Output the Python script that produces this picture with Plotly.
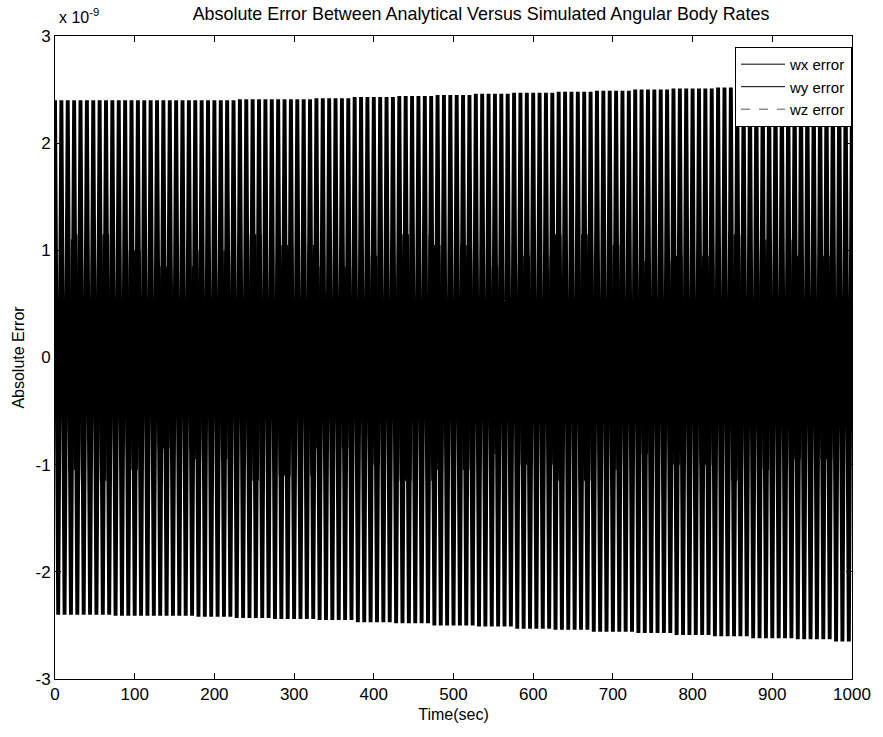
import numpy as np
import plotly.graph_objects as go

# ---------------- data (values in units of 1e-9) ----------------
# envelope sample times (s)
env_t = [0, 50, 100, 150, 200, 250, 300, 350, 400, 450, 500,
         550, 600, 650, 700, 750, 800, 850, 900, 950, 1000]
# wx error: upper / lower peak levels
wx_hi = [2.40, 2.40, 2.40, 2.40, 2.40, 2.41, 2.41, 2.42, 2.43, 2.44, 2.45,
         2.46, 2.47, 2.48, 2.49, 2.50, 2.51, 2.52, 2.53, 2.54, 2.55]
wx_lo = [-2.40, -2.40, -2.41, -2.41, -2.42, -2.43, -2.44, -2.45, -2.47, -2.48, -2.50,
         -2.51, -2.53, -2.54, -2.56, -2.57, -2.59, -2.60, -2.62, -2.63, -2.65]
# wy error: peak levels
wy_hi = [1.10, 1.15, 1.00, 0.85, 1.00, 1.15, 1.05, 0.85, 0.95, 1.15, 1.05,
         0.85, 0.95, 1.15, 1.05, 0.90, 0.95, 1.15, 1.10, 0.95, 1.00]
wy_lo = [-1.05, -1.15, -1.05, -0.85, -0.95, -1.15, -1.10, -0.85, -1.00, -1.15, -1.05,
         -0.90, -1.00, -1.15, -1.05, -0.90, -1.00, -1.15, -1.05, -0.95, -1.00]
# wz error: peak levels
wz_hi = [0.40, 0.35, 0.45, 0.40, 0.35, 0.45, 0.40, 0.35, 0.40, 0.45, 0.35,
         0.40, 0.45, 0.35, 0.40, 0.45, 0.40, 0.35, 0.40, 0.45, 0.40]
wz_lo = [-0.40, -0.35, -0.45, -0.40, -0.35, -0.45, -0.40, -0.35, -0.40, -0.45, -0.35,
         -0.40, -0.45, -0.35, -0.40, -0.45, -0.40, -0.35, -0.40, -0.45, -0.40]

# turning-point sample times (s)
t_wx = np.arange(0, 1000.1, 4.0)
t_wy = np.arange(1.0, 1000.1, 3.3)
t_wz = np.arange(0.8, 1000.1, 2.7)

x_ticks = [0, 100, 200, 300, 400, 500, 600, 700, 800, 900, 1000]
y_ticks = [-3, -2, -1, 0, 1, 2, 3]
y_ticktext = ["-3", "-2", "-1", "0", "1", "2", "3"]
series_names = ["wx error", "wy error", "wz error"]


def turning_values(t, hi, lo):
    idx = np.abs(np.subtract.outer(t, np.array(env_t))).argmin(axis=1)
    hi = np.array(hi)[idx]
    lo = np.array(lo)[idx]
    return np.where(np.arange(len(t)) % 2 == 0, hi, lo)


fig = go.Figure()
fig.add_trace(go.Scatter(x=t_wx, y=turning_values(t_wx, wx_hi, wx_lo), mode="lines",
                         showlegend=False, hoverinfo="skip",
                         line=dict(color="black", width=3.9, simplify=False)))
fig.add_trace(go.Scatter(x=t_wy, y=turning_values(t_wy, wy_hi, wy_lo), mode="lines",
                         showlegend=False, hoverinfo="skip",
                         line=dict(color="black", width=1.3, simplify=False)))
fig.add_trace(go.Scatter(x=t_wz, y=turning_values(t_wz, wz_hi, wz_lo), mode="lines",
                         showlegend=False, hoverinfo="skip",
                         line=dict(color="black", width=1.5, simplify=False)))
# legend entries (thin lines as in the reference legend)
legend_styles = [dict(color="black", width=1), dict(color="black", width=1),
                 dict(color="#555555", width=1, dash="dash")]
for nm, st in zip(series_names, legend_styles):
    fig.add_trace(go.Scatter(x=[None], y=[None], mode="lines", name=nm, line=st))

font = "Liberation Sans, Arial, Helvetica, sans-serif"
fig.update_layout(
    width=883, height=737,
    margin=dict(l=55, r=26, t=36, b=58),
    paper_bgcolor="white", plot_bgcolor="white",
    font=dict(family=font, color="black", size=16),
    title=dict(text="Absolute Error Between Analytical Versus Simulated Angular Body Rates",
               x=472 / 883, xref="paper", xanchor="center", y=1 - 14 / 737, yanchor="middle",
               font=dict(size=17.9, family=font)),
    showlegend=True,
    legend=dict(x=1.0, y=0.983, xanchor="right", yanchor="top",
                bgcolor="white", bordercolor="black", borderwidth=1,
                font=dict(size=15, family=font), tracegroupgap=0, itemwidth=44),
    xaxis=dict(range=[0, 1000], tickvals=x_ticks, ticks="inside", ticklen=6,
               tickcolor="black", showline=True, linecolor="black", linewidth=1,
               mirror="allticks", showgrid=False, zeroline=False,
               title=dict(text="Time(sec)", standoff=5, font=dict(size=16)),
               tickfont=dict(size=17)),
    yaxis=dict(range=[-3, 3], tickvals=y_ticks, ticktext=y_ticktext, ticks="inside", ticklen=6,
               tickcolor="black", showline=True, linecolor="black", linewidth=1,
               mirror="allticks", showgrid=False, zeroline=False,
               title=dict(text="Absolute Error", standoff=6, font=dict(size=16)),
               tickfont=dict(size=17)),
    annotations=[dict(text="x 10<sup>-9</sup>", xref="paper", yref="paper",
                      x=0.002, y=1.0, xanchor="left", yanchor="bottom", yshift=8,
                      showarrow=False, font=dict(size=16, family=font))],
)

fig.write_html("out.html")
